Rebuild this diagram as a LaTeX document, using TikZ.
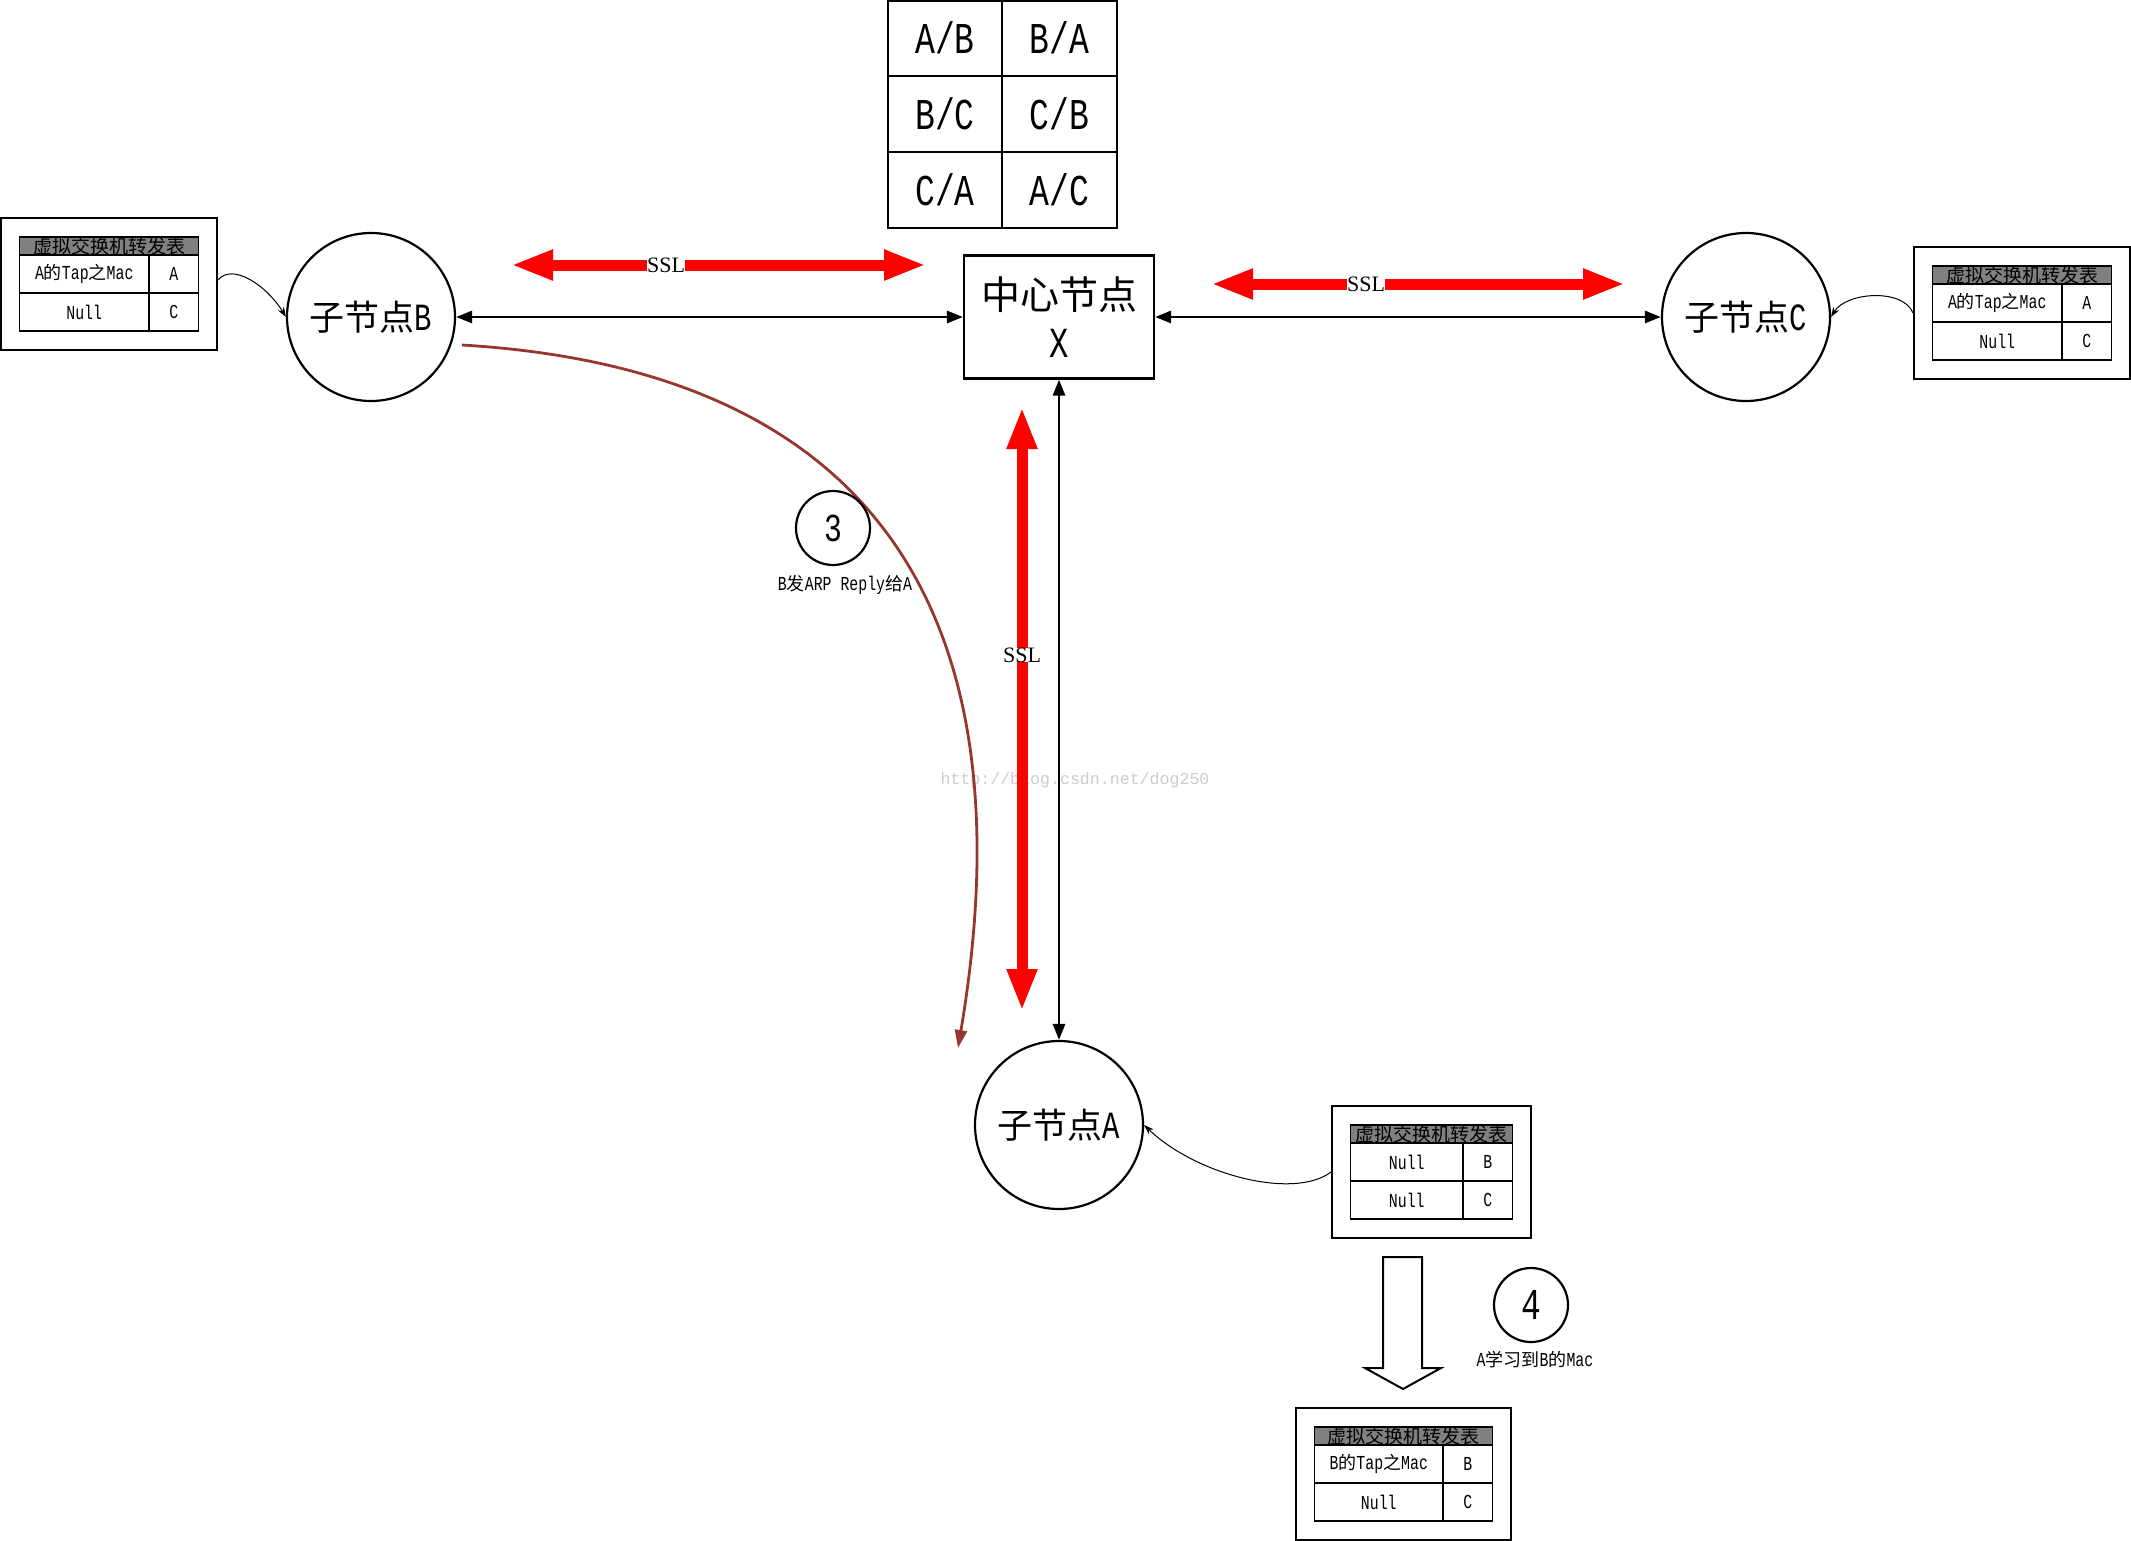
\documentclass[tikz,border=0pt]{standalone}
\usepackage{fontspec}
\setmainfont{Liberation Serif}
\newfontfamily\cjk{Noto Sans CJK SC}
\newfontfamily\lat[FakeStretch=0.75,Scale=1.1]{Liberation Mono}
\newfontfamily\wmfont{Liberation Mono}
\usetikzlibrary{arrows.meta}
\definecolor{arpred}{RGB}{150,55,45}
\definecolor{hdrgray}{RGB}{128,128,128}
\newcommand\zh[1]{{\cjk #1}}
\newcommand\fsz[1]{\fontsize{#1pt}{#1pt}\selectfont}
\tikzset{
  circ/.style={circle, draw, line width=1.1pt, minimum size=84pt, inner sep=0pt, font=\lat\fsz{17.5}},
  small circ/.style={circle, draw, line width=1.1pt, minimum size=37pt, inner sep=0pt},
  tabline/.style={line width=0.8pt},
  tabtxt/.style={font=\lat\fsz{9}, inner sep=0pt},
  bigtxt/.style={font=\lat\fsz{20}, inner sep=0pt},
  redarr/.style={draw=red, line width=5.5pt, {Triangle[length=21pt,width=14pt]}-{Triangle[length=21pt,width=14pt]}},
  ssl/.style={fill=white, inner sep=0pt, font=\fsz{11}},
  blk/.style={line width=1.4pt, {Triangle[length=8pt,width=6pt]}-{Triangle[length=8pt,width=6pt]}},
  thinarr/.style={line width=0.5pt, -{Stealth[length=5pt,width=3.5pt]}},
  arp/.style={draw=arpred, line width=1.4pt, -{Triangle[length=9pt,width=6pt]}},
  note/.style={font=\lat\fsz{9}, inner sep=0pt}
}
\newcommand\fwtab[6]{%
  \pgfmathsetmacro\fwxa{#2+18.5}%
  \pgfmathsetmacro\fwxb{#4-18.5}%
  \pgfmathsetmacro\fwxd{\fwxb-49.5}%
  \pgfmathsetmacro\fwy{#3+19}%
  \pgfmathsetmacro\fwcx{(#2+#4)/2}%
  \pgfmathsetmacro\fwcy{#3+66}%
  \pgfmathsetmacro\fww{(#4-#2)/2}%
  \node[draw, line width=1pt, minimum width=\fww pt, minimum height=66pt, inner sep=0pt] (#1) at (\fwcx,\fwcy) {};
  \draw[tabline, fill=hdrgray] (\fwxa,\fwy) rectangle (\fwxb,\fwy+18);
  \draw[tabline] (\fwxa,\fwy+18) rectangle (\fwxb,\fwy+94);
  \draw[tabline] (\fwxa,\fwy+56) -- (\fwxb,\fwy+56);
  \draw[tabline] (\fwxd,\fwy+18) -- (\fwxd,\fwy+94);
  \node[inner sep=0pt, font=\cjk\fsz{9.5}] (#1-h) at ({(\fwxa+\fwxb)/2},\fwy+9.5) {虚拟交换机转发表};
  \node[tabtxt] (#1-a) at ({(\fwxa+\fwxd)/2},\fwy+37) {#5};
  \node[tabtxt] (#1-b) at ({(\fwxd+\fwxb)/2},\fwy+37) {#6};
  \node[tabtxt] (#1-c) at ({(\fwxa+\fwxd)/2},\fwy+75) {Null};
  \node[tabtxt] (#1-d) at ({(\fwxd+\fwxb)/2},\fwy+75) {C};
}
\begin{document}
\begin{tikzpicture}[x=0.5pt,y=-0.5pt]
\useasboundingbox (0,0) rectangle (2131,1541);

% watermark
\node[text=black!20, font=\wmfont\fsz{8.3}, inner sep=0pt] (wm) at (1075,780) {http://blog.csdn.net/dog250};

% top table
\draw[tabline] (888,1) rectangle (1117,228);
\draw[tabline] (1002,1) -- (1002,228);
\draw[tabline] (888,76) -- (1117,76);
\draw[tabline] (888,152) -- (1117,152);
\node[bigtxt] (t11) at (945,38) {A/B};
\node[bigtxt] (t12) at (1059.5,38) {B/A};
\node[bigtxt] (t21) at (945,114) {B/C};
\node[bigtxt] (t22) at (1059.5,114) {C/B};
\node[bigtxt] (t31) at (945,190) {C/A};
\node[bigtxt] (t32) at (1059.5,190) {A/C};

% main nodes
\node[draw, line width=1.1pt, minimum width=95pt, minimum height=61.5pt, inner sep=0pt, align=center,
      font=\lat\fontsize{19.5pt}{24pt}\selectfont] (X) at (1059,317) {\zh{中心节点}\\X};
\node[circ] (B) at (371,317) {\zh{子节点}B};
\node[circ] (C) at (1746,317) {\zh{子节点}C};
\node[circ] (A) at (1059,1125) {\zh{子节点}A};

% red SSL arrows
\coordinate (r1a) at (511,265);
\coordinate (r1b) at (926,265);
\coordinate (r2a) at (1211,284);
\coordinate (r2b) at (1625,284);
\coordinate (r3a) at (1022,407);
\coordinate (r3b) at (1022,1011);
\draw[redarr] (r1a) -- (r1b);
\draw[redarr] (r2a) -- (r2b);
\draw[redarr] (r3a) -- (r3b);
\node[ssl] (ssl1) at (666,265) {SSL};
\node[ssl] (ssl2) at (1366,284) {SSL};
\node[ssl] (ssl3) at (1022,655) {SSL};

% black connectors
\draw[blk] (B) -- (X);
\draw[blk] (X) -- (C);
\draw[blk] (X) -- (A);

% ARP reply curve
\coordinate (arpS) at (462,345);
\coordinate (arpE) at (958,1048);
\draw[arp] (arpS) .. controls (880,370) and (1030,620) .. (arpE);

% step circles
\node[small circ, font=\lat\fsz{18}] (s3) at (833,528) {3};
\node[note] (s3t) at (845,585) {B\zh{发}ARP Reply\zh{给}A};
\node[small circ, font=\lat\fsz{20}] (s4) at (1531,1305) {4};
\node[note] (s4t) at (1535,1360) {A\zh{学习到}B\zh{的}Mac};

% forwarding tables
\fwtab{TL}{1}{218}{217}{A\zh{的}Tap\zh{之}Mac}{A}
\fwtab{TR}{1914}{247}{2130}{A\zh{的}Tap\zh{之}Mac}{A}
\fwtab{TA}{1332}{1106}{1531}{Null}{B}
\fwtab{TN}{1296}{1408}{1511}{B\zh{的}Tap\zh{之}Mac}{B}

% thin connectors
\draw[thinarr] ([yshift=2pt]TL.east) .. controls +(15,-18) and +(-18,-30) .. (B.west);
\draw[thinarr] (TR.west) .. controls +(-10,-25) and +(15,-25) .. (C.east);
\draw[thinarr] (TA.west) .. controls +(-37,28) and +(52,50) .. (A.east);

% hollow down arrow
\draw[line width=1pt] (1383,1257) -- (1422,1257) -- (1422,1368) -- (1441,1368) -- (1403,1389)
  -- (1365,1368) -- (1383,1368) -- cycle;
\end{tikzpicture}
\end{document}
